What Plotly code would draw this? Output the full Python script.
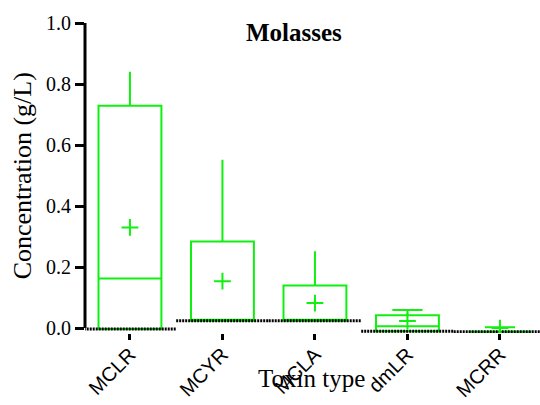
import plotly.graph_objects as go

# ---- data ----
categories = ["MCLR", "MCYR", "MCLA", "dmLR", "MCRR"]
q1 = [-0.003, 0.024, 0.024, -0.010, -0.012]
median = [0.163, 0.024, 0.024, 0.006, -0.012]
q3 = [0.729, 0.284, 0.140, 0.042, -0.012]
upper = [0.840, 0.552, 0.252, 0.059, 0.003]
lower = [-0.003, 0.024, 0.024, -0.010, -0.012]
mean = [0.330, 0.154, 0.082, 0.023, 0.000]
has_cap = [False, False, False, True, True]
y_ticks = [0.0, 0.2, 0.4, 0.6, 0.8, 1.0]

GREEN = "#10f010"
SERIF = "Liberation Serif"
SANS = "Liberation Sans"

fig = go.Figure()
xpos = list(range(len(categories)))

# broken baseline segments (at each box's lower quartile)
for i, x in enumerate(xpos):
    fig.add_trace(go.Scatter(
        x=[x - 0.5, x + 0.5], y=[q1[i], q1[i]], mode="lines",
        line=dict(color="black", width=3, dash="2px,1px"),
        hoverinfo="skip", showlegend=False, cliponaxis=False))

for i, x in enumerate(xpos):
    fig.add_trace(go.Box(
        x=[x], q1=[q1[i]], median=[median[i]], q3=[q3[i]],
        lowerfence=[lower[i]], upperfence=[upper[i]],
        width=0.68, whiskerwidth=0.48 if has_cap[i] else 0,
        line=dict(color=GREEN, width=2), fillcolor="rgba(0,0,0,0)",
        boxpoints=False, showlegend=False))

fig.add_trace(go.Scatter(
    x=xpos, y=mean, mode="markers",
    marker=dict(symbol="cross-thin", size=12, line=dict(color=GREEN, width=2)),
    showlegend=False))

fig.update_layout(
    width=540, height=405,
    margin=dict(l=85, r=0, t=23, b=72),
    plot_bgcolor="white", paper_bgcolor="white",
    xaxis=dict(range=[-0.486, 4.433], tickmode="array", tickvals=xpos,
               ticktext=categories, tickangle=-45, automargin=False,
               tickfont=dict(family=SANS, size=20, color="black"),
               ticklabelstandoff=-5,
               ticks="outside", ticklen=6, tickwidth=3, tickcolor="black",
               showgrid=False, zeroline=False, showline=False),
    yaxis=dict(range=[-0.016, 1.0], tickmode="array", tickvals=y_ticks,
               tickformat=".1f", automargin=False,
               tickfont=dict(family=SERIF, size=20, color="black"),
               ticks="outside", ticklen=9, tickwidth=3, tickcolor="black",
               showgrid=False, zeroline=False, showline=False),
    shapes=[dict(type="line", xref="paper", yref="y", x0=0, x1=0,
                 y0=0, y1=1.0, line=dict(color="black", width=3))],
    annotations=[
        dict(text="<b>Molasses</b>", xref="paper", yref="paper",
             x=0.459, y=0.97, xanchor="center", yanchor="middle",
             showarrow=False, font=dict(family=SERIF, size=25, color="black")),
        dict(text="Toxin type", xref="paper", yref="paper",
             x=0.497, y=-0.147, xanchor="center", yanchor="middle",
             showarrow=False, font=dict(family=SERIF, size=25, color="black")),
        dict(text="Concentration (g/L)", xref="paper", yref="paper",
             x=-0.138, y=0.506, xanchor="center", yanchor="middle",
             textangle=-90,
             showarrow=False, font=dict(family=SERIF, size=26, color="black")),
    ],
)

fig.write_html("out.html")
